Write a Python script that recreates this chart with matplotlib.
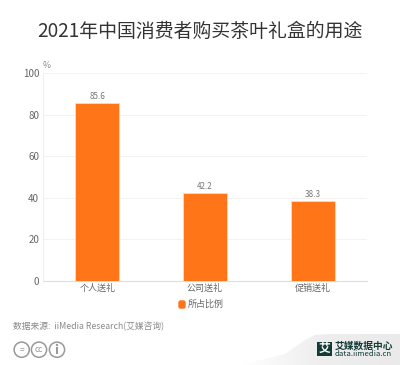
#!/usr/bin/env python3
# 2021 tea gift box usage chart

import numpy as np
import matplotlib
matplotlib.use("Agg")
import matplotlib.pyplot as plt
from matplotlib.colors import LinearSegmentedColormap
from matplotlib.patches import Circle, FancyBboxPatch, Polygon, Rectangle

plt.rcParams['font.family'] = ['Noto Sans CJK SC', 'DejaVu Sans']

categories = ["个人送礼", "公司送礼", "促销送礼"]
values = [85.6, 42.2, 38.3]
yticks = [0, 20, 40, 60, 80, 100]
title = "2021年中国消费者购买茶叶礼盒的用途"
series_name = "所占比例"
source = "数据来源:  iiMedia Research(艾媒咨询)"

W, H = 400, 365
fig = plt.figure(figsize=(W/100, H/100), dpi=100)

# full figure overlay in pixel coords
bg = fig.add_axes([0, 0, 1, 1])
bg.set_xlim(0, W)
bg.set_ylim(H, 0)
bg.axis("off")

ax = fig.add_axes([43.3/W, 1-281/H, 323.4/W, 208/H])
ax.patch.set_alpha(0)
bars = ax.bar(range(3), values, width=0.413, color="#ff7518",
              edgecolor="#ffd9bf", linewidth=0.6, zorder=3)
ax.set_xlim(-0.5, 2.5)
ax.set_ylim(0, 100)
ax.set_yticks(yticks)
ax.set_xticks(range(3))
ax.set_xticklabels(categories, fontsize=6.5, color="#666666")
ax.tick_params(axis="y", length=0, labelsize=7, labelcolor="#666666", pad=3)
ax.tick_params(axis="x", length=0, pad=1.5)
ax.grid(axis="y", color="#f3f3f3", linewidth=0.7, zorder=0)
for s in ["top", "right"]:
    ax.spines[s].set_visible(False)
ax.spines["left"].set_color("#eeeeee")
ax.spines["bottom"].set_color("#dddddd")
for i, v in enumerate(values):
    ax.text(i, v+1.0, "%.1f" % v, ha="center", va="bottom",
            fontsize=5.8, color="#777777")

fig.text(200/W, 1-31/H, title, ha="center", va="center",
         fontsize=13.6, color="#333333")
bg.text(46.5, 65.7, "%", ha="center", va="center", fontsize=6.2, color="#888888")

# legend
bg.add_patch(FancyBboxPatch((179, 301), 6, 7, boxstyle="round,pad=0,rounding_size=1.5",
                            fc="#ff7518", ec="#ff7518", lw=1))
bg.text(188, 304.3, series_name, ha="left", va="center", fontsize=6.5, color="#666666")

bg.text(13, 326.5, source, ha="left", va="center", fontsize=6.3, color="#8a8a8a")

# licence icons
for cx, sym in zip([21.7, 39, 57], ["=", "cc", ""]):
    bg.add_patch(Circle((cx, 349.7), 7.6, fc="white", ec="#999999", lw=1.1))
    if sym:
        bg.text(cx, 349.5, sym, ha="center", va="center", fontsize=6, color="#999999")
bg.add_patch(Rectangle((56, 347), 2, 7, fc="#999999", ec="none"))
bg.add_patch(Circle((57, 345), 1.2, fc="#999999", ec="none"))

# watermark corner, fading out to the left
shape = Polygon([(240, 365), (285, 354), (305, 340), (315, 335), (328, 334), (400, 334), (400, 365)],
                fc="none", ec="none")
bg.add_patch(shape)
cmap = LinearSegmentedColormap.from_list("wm", ["#ffffff", "#eeeeee", "#eaeaea"])
grad = np.linspace(0, 1, 160).reshape(1, -1)
im = bg.imshow(grad, extent=(240, 400, 365, 334), cmap=cmap, aspect="auto", zorder=1)
im.set_clip_path(shape)
bg.set_xlim(0, W)
bg.set_ylim(H, 0)

bg.add_patch(Rectangle((317, 342), 14.5, 13.5, fc="#123a36", ec="none", zorder=2))
bg.text(324.2, 348.6, "艾", ha="center", va="center", fontsize=8.5, color="white", weight="bold", zorder=3)
bg.text(334.5, 346, "艾媒数据中心", ha="left", va="center", fontsize=7, color="#123a36", weight="bold", zorder=3)
bg.text(334.5, 354.5, "data.iimedia.cn", ha="left", va="center", fontsize=5.6, color="#123a36", zorder=3)

fig.savefig("out.png", dpi=100)
